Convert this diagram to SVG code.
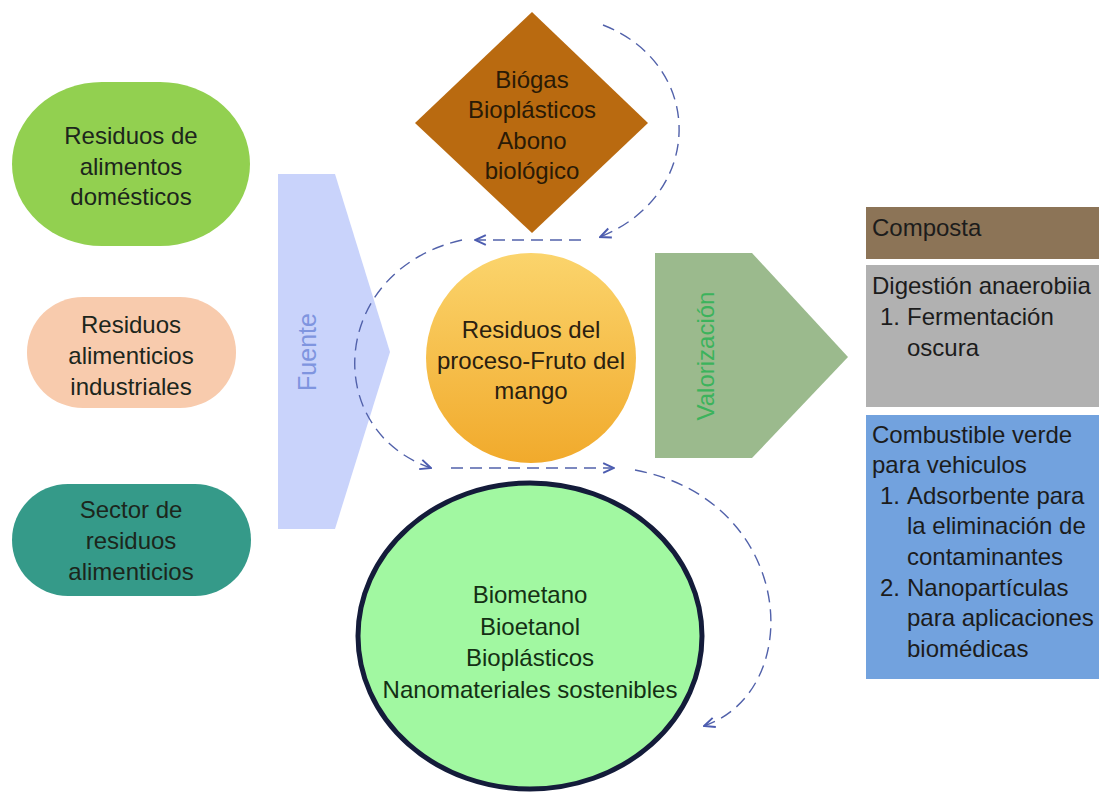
<svg xmlns="http://www.w3.org/2000/svg" width="1099" height="792" viewBox="0 0 1099 792">
<defs>
<style>
.t{font-family:"Liberation Sans",Arial,sans-serif;font-size:24px;fill:#1c261c;text-anchor:middle}
.tl{font-family:"Liberation Sans",Arial,sans-serif;font-size:24px;fill:#1c1c1c}
.c{fill:none;stroke:#5161aa;stroke-width:1.4;stroke-dasharray:12 7}
</style>
<linearGradient id="og" x1="0" y1="0" x2="0" y2="1">
<stop offset="0" stop-color="#fbd46c"/>
<stop offset="1" stop-color="#f1aa2c"/>
</linearGradient>
<marker id="arr" viewBox="0 0 12 12" refX="11" refY="6" markerWidth="13" markerHeight="13" orient="auto" markerUnits="userSpaceOnUse">
<path d="M1,1.5 L11,6 L1,10.5" fill="none" stroke="#4c5cb0" stroke-width="1.8"/>
</marker>
</defs>
<rect width="1099" height="792" fill="#ffffff"/>

<g id="n-domesticos">
<rect x="12" y="82" width="238" height="164" rx="90" ry="82" fill="#92d050"/>
<text class="t" x="131" y="144">Residuos de</text>
<text class="t" x="131" y="175">alimentos</text>
<text class="t" x="131" y="205">domésticos</text>
</g>

<g id="n-industriales">
<rect x="27" y="297" width="209" height="111" rx="56" ry="55" fill="#f8cbad"/>
<text class="t" x="131" y="333">Residuos</text>
<text class="t" x="131" y="364">alimenticios</text>
<text class="t" x="131" y="395">industriales</text>
</g>

<g id="n-sector">
<rect x="12" y="484" width="239" height="112" rx="56" ry="56" fill="#359a89"/>
<text class="t" x="131" y="518">Sector de</text>
<text class="t" x="131" y="549">residuos</text>
<text class="t" x="131" y="580">alimenticios</text>
</g>

<g id="n-fuente">
<polygon points="278,174 335,174 390,352 335,529 278,529" fill="#c9d3fb"/>
<text x="307" y="352" transform="rotate(-90 307 352)" dy="9" style="font-family:'Liberation Sans',Arial,sans-serif;font-size:25px;fill:#7f95df;text-anchor:middle">Fuente</text>
</g>

<g id="n-biogas">
<polygon points="532,12 648,123 532,233 415,123" fill="#b96a10"/>
<text class="t" x="532" y="88" style="fill:#2a1a06">Biógas</text>
<text class="t" x="532" y="118" style="fill:#2a1a06">Bioplásticos</text>
<text class="t" x="532" y="149" style="fill:#2a1a06">Abono</text>
<text class="t" x="532" y="179" style="fill:#2a1a06">biológico</text>
</g>

<g id="n-mango">
<circle cx="531" cy="358" r="105" fill="url(#og)"/>
<text class="t" x="531" y="338" style="fill:#2a2010">Residuos del</text>
<text class="t" x="531" y="369" style="fill:#2a2010">proceso-Fruto del</text>
<text class="t" x="531" y="399" style="fill:#2a2010">mango</text>
</g>

<g id="n-valorizacion">
<polygon points="655,253 752,253 848,357 752,458 655,458" fill="#9bba8d"/>
<text x="705" y="356" transform="rotate(-90 705 356)" dy="9" style="font-family:'Liberation Sans',Arial,sans-serif;font-size:24px;fill:#3cb35c;text-anchor:middle">Valorización</text>
</g>

<g id="n-productos">
<ellipse cx="530" cy="636" rx="172" ry="153" fill="#a1f8a1" stroke="#141c3a" stroke-width="5"/>
<text class="t" x="530" y="603" style="fill:#143014">Biometano</text>
<text class="t" x="530" y="635" style="fill:#143014">Bioetanol</text>
<text class="t" x="530" y="666" style="fill:#143014">Bioplásticos</text>
<text class="t" x="530" y="698" style="fill:#143014">Nanomateriales sostenibles</text>
</g>

<g id="n-composta">
<rect x="866" y="207" width="233" height="52" fill="#8c7457"/>
<text class="tl" x="872" y="236">Composta</text>
</g>

<g id="n-digestion">
<rect x="866" y="265" width="233" height="142" fill="#b1b1b1"/>
<text class="tl" x="872" y="294">Digestión anaerobiia</text>
<text class="tl" x="880" y="325">1.</text>
<text class="tl" x="907" y="325">Fermentación</text>
<text class="tl" x="907" y="356">oscura</text>
</g>

<g id="n-combustible">
<rect x="866" y="415" width="233" height="264" fill="#72a2de"/>
<text class="tl" x="872" y="443">Combustible verde</text>
<text class="tl" x="872" y="473">para vehiculos</text>
<text class="tl" x="880" y="504">1.</text>
<text class="tl" x="907" y="504">Adsorbente para</text>
<text class="tl" x="907" y="534">la eliminación de</text>
<text class="tl" x="907" y="565">contaminantes</text>
<text class="tl" x="880" y="596">2.</text>
<text class="tl" x="907" y="596">Nanopartículas</text>
<text class="tl" x="907" y="626">para aplicaciones</text>
<text class="tl" x="907" y="657">biomédicas</text>
</g>

<g id="connectors">
<path class="c" d="M603,25 C705,65 705,195 600,237" marker-end="url(#arr)"/>
<path class="c" d="M581,240 L475,240" marker-end="url(#arr)"/>
<path class="c" d="M462,240 C330,270 320,430 431,468" marker-end="url(#arr)"/>
<path class="c" d="M451,468 L614,468" marker-end="url(#arr)"/>
<path class="c" d="M635,470 C795,500 808,690 704,726" marker-end="url(#arr)"/>
</g>
</svg>
